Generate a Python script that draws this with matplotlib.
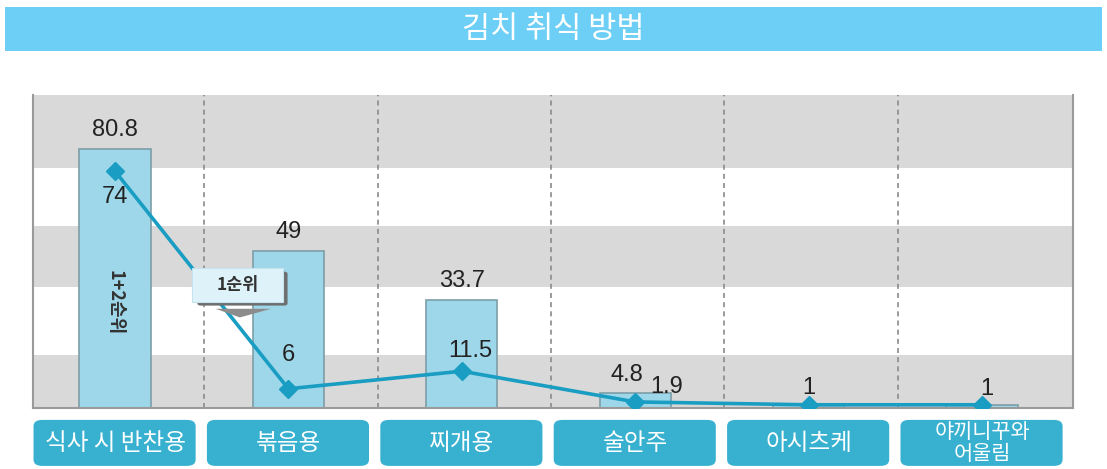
import matplotlib.pyplot as plt
from matplotlib.patches import FancyBboxPatch, Rectangle, Polygon
import numpy as np

plt.rcParams['font.family'] = ['Liberation Sans', 'Noto Sans CJK KR', 'DejaVu Sans']

title = '김치 취식 방법'
categories = ['식사 시 반찬용', '볶음용', '찌개용', '술안주', '아시츠케', '야끼니꾸와\n어울림']
top2 = [80.8, 49, 33.7, 4.8, 1, 1]      # 1+2순위 (bars)
top1 = [74, 6, 11.5, 1.9, 1, 1]         # 1순위 (line)

BAR_COLOR = '#9dd7e9'
BAR_EDGE = '#7d9ea8'
LINE_COLOR = '#1a9dc2'
BOX_COLOR = '#38b1d0'
BAND = '#d9d9d9'
KR = ['Noto Sans CJK KR', 'DejaVu Sans']

fig = plt.figure(figsize=(11.07, 4.69), dpi=100)
ax = fig.add_axes([33 / 1107, 61 / 469, 1040 / 1107, 313 / 469])

x = np.arange(len(categories))
ax.set_xlim(-0.473, 5.525)
ax.set_ylim(0, 97.8)

# background bands
for lo, hi in [(0, 16.6), (37.8, 56.9), (75, 97.8)]:
    ax.axhspan(lo, hi, color=BAND, lw=0, zorder=0)

for i in range(len(categories) - 1):
    ax.axvline(i + 0.515, color='#8a8a8a', ls=(0, (3, 2.5)), lw=1.2, zorder=1)

ax.bar(x, top2, width=0.41, color=BAR_COLOR, edgecolor=BAR_EDGE, lw=1.2, zorder=2)
ax.plot(x, top1, color=LINE_COLOR, lw=2.6, marker='D', ms=9, zorder=4)

ax.spines['top'].set_visible(False)
for s in ['left', 'right', 'bottom']:
    ax.spines[s].set_color('#9a9a9a')
    ax.spines[s].set_linewidth(1.5)
ax.set_xticks([])
ax.set_yticks([])

# value labels
vfs = 17
bar_off = [2.6, 2.6, 2.6, 2.2, None, None]
for i, v in enumerate(top2):
    if bar_off[i] is not None:
        dx = -0.05 if i == 3 else 0
        ax.text(i + dx, v + bar_off[i], f'{v:g}', ha='center', va='bottom', fontsize=vfs, color='#222', zorder=5)
line_pos = [(0, -11.5), (0, 7.0), (0.05, 2.8), (0.18, 1.2), (0, 1.8), (0.03, 1.6)]
for i, v in enumerate(top1):
    dx, dy = line_pos[i]
    ax.text(i + dx, v + dy, f'{v:g}', ha='center', va='bottom', fontsize=vfs, color='#222', zorder=5)

ax.text(0, 33, '1+2순위', rotation=270, ha='center', va='center', fontsize=13,
        fontweight='bold', color='#333', family=KR, zorder=5)

# 1순위 callout
sh = FancyBboxPatch((0.475, 32.0), 0.52, 10.6, boxstyle='round,pad=0,rounding_size=0.02',
                    fc='#6e6e6e', ec='none', zorder=5, mutation_aspect=30)
ax.add_patch(sh)
cb = FancyBboxPatch((0.444, 33.1), 0.525, 10.6, boxstyle='square,pad=0', fc='#def2f9', ec='#c5e3ee', lw=0.8, zorder=6)
ax.add_patch(cb)
ax.add_patch(Polygon([[0.58, 31.0], [0.9, 31.0], [0.72, 28.3]], closed=True, fc='#8c8c8c', ec='none', zorder=5))
ax.text(0.706, 38.4, '1순위', ha='center', va='center', fontsize=12.5, fontweight='bold', color='#333', family=KR, zorder=7)

# category boxes
trans = ax.get_xaxis_transform()
for i, c in enumerate(categories):
    b = FancyBboxPatch((i - 0.47, -0.185), 0.935, 0.147, boxstyle='round,pad=0,rounding_size=0.05',
                       transform=trans, fc=BOX_COLOR, ec='none', clip_on=False, mutation_aspect=0.4)
    ax.add_patch(b)
    lines = c.count('\n') + 1
    ax.text(i, -0.112, c, transform=trans, ha='center', va='center', fontsize=17 if lines == 1 else 15,
            color='white', family=KR, linespacing=0.95)

# title bar
fig.patches.append(Rectangle((5 / 1107, 418 / 469), 1097 / 1107, 44 / 469, transform=fig.transFigure,
                             fc='#6dcff6', ec='none'))
fig.text(0.5, 440 / 469, title, ha='center', va='center', fontsize=22, color='white', family=KR)

fig.savefig('out.png', dpi=100)
